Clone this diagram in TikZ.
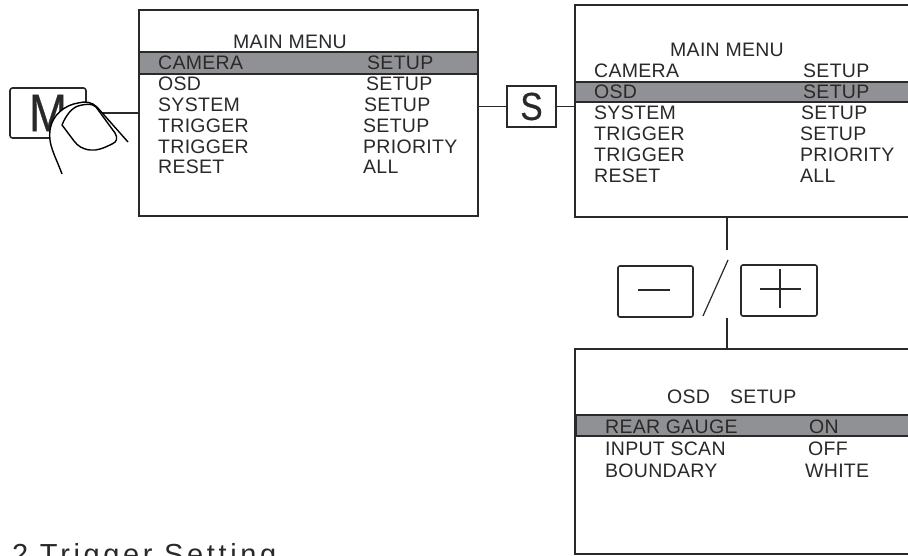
\documentclass[tikz,border=0pt]{standalone}
\usepackage{fontspec}
\usepackage{tikz}
\usepackage{xcolor}
\setmainfont{Liberation Sans}
\newfontfamily\menufont[LetterSpace=1.5]{Liberation Sans}
\newfontfamily\headfont[LetterSpace=12.5]{Liberation Sans}
\newfontfamily\keyfont[FakeStretch=0.86,FakeBold=0.5]{Liberation Sans}
\definecolor{inkdark}{HTML}{2B2829}
\definecolor{bargray}{HTML}{8F9194}

\begin{document}
\begin{tikzpicture}[x=1pt,y=-1pt,
  menubox/.style={draw=inkdark,line width=2pt,fill=white,anchor=north west,inner sep=0pt,outer sep=0pt},
  menubar/.style={draw=inkdark,line width=1.2pt,fill=bargray,anchor=north west,inner sep=0pt,outer sep=0pt},
  menutext/.style={anchor=base west,inner sep=0pt,text=inkdark,font=\menufont\fontsize{19.5}{21}\selectfont},
  keybox/.style={draw=inkdark,line width=1.3pt,fill=white,inner sep=0pt,outer sep=0pt},
  fingerline/.style={draw=black,line width=1.4pt,line join=round}]
  \useasboundingbox (0,0) rectangle (908,556);

  \node[menubox,minimum width=339pt,minimum height=206pt] (mainA) at (139,10) {};
  \node[menubox,minimum width=400pt,minimum height=212pt] (mainB) at (575,5) {};
  \node[menubox,minimum width=400pt,minimum height=205pt] (osdbox) at (575,349) {};
  \node[menubar,minimum width=339pt,minimum height=22pt] (barA) at (139,52) {};
  \node[menubar,minimum width=400pt,minimum height=20pt] (barB) at (575,82) {};
  \node[menubar,minimum width=400pt,minimum height=21pt] (barC) at (576,415) {};

  \node[menutext] (titleA) at (233,49) {MAIN MENU};
  \foreach \lab/\val/\vx/\yy [count=\k] in {CAMERA/SETUP/367/70,OSD/SETUP/366/91,SYSTEM/SETUP/364/112,
    TRIGGER/SETUP/363/133,TRIGGER/PRIORITY/363/154,RESET/ALL/363/174} {
    \node[menutext] (labA\k) at (158,\yy) {\lab};
    \node[menutext] (valA\k) at (\vx,\yy) {\val};
  }

  \node[menutext] (titleB) at (670,57) {MAIN MENU};
  \foreach \lab/\val/\vx/\yy [count=\k] in {CAMERA/SETUP/803/78,OSD/SETUP/803/99,SYSTEM/SETUP/801/120,
    TRIGGER/SETUP/800/141,TRIGGER/PRIORITY/800/162,RESET/ALL/800/183} {
    \node[menutext] (labB\k) at (594,\yy) {\lab};
    \node[menutext] (valB\k) at (\vx,\yy) {\val};
  }

  \node[menutext] (titleC) at (667,403) {OSD};
  \node[menutext] (titleD) at (730,403) {SETUP};
  \foreach \lab/\val/\vx/\yy [count=\k] in {REAR GAUGE/ON/809/433,INPUT SCAN/OFF/808/455,BOUNDARY/WHITE/805/477} {
    \node[menutext] (labC\k) at (605,\yy) {\lab};
    \node[menutext] (valC\k) at (\vx,\yy) {\val};
  }

  \node[keybox,minimum width=49pt,minimum height=41pt,font=\keyfont\fontsize{39}{40}\selectfont,text=inkdark] (keyS) at (531.5,106.5) {S};
  \draw[inkdark,line width=1.2pt] (mainA.east |- keyS.west) -- (keyS.west);
  \draw[inkdark,line width=1.2pt] (keyS.east) -- (mainB.west |- keyS.east);

  \node[keybox,rounded corners=2.5pt,line width=1.6pt,minimum width=76pt,minimum height=50pt,font=\keyfont\fontsize{53}{54}\selectfont,text=inkdark] (keyM) at (48,113) {M\hspace{8pt}};
  \draw[inkdark,line width=1.2pt] (keyM.east) -- (mainA.west |- keyM.east);
  \fill[white] (62,174) .. controls (55,155) and (48,145) .. (50,130) .. controls (52,115) and (65,105) .. (78,103)
    .. controls (85,101) and (92,102) .. (97,107) -- (128,142) -- (93,165) -- cycle;
  \draw[fingerline] (62,174) .. controls (55,155) and (48,145) .. (50,130) .. controls (52,115) and (65,105) .. (78,103)
    .. controls (85,101) and (92,102) .. (97,107) -- (128,142);
  \draw[fingerline] (62,125) .. controls (66,115) and (72,108) .. (78,106) .. controls (85,104) and (92,103) .. (96,107)
    -- (115,133) .. controls (118,138) and (117,142) .. (112,144) .. controls (104,148) and (97,151) .. (90,150)
    .. controls (82,149) and (78,146) .. (74,141) -- cycle;

  \node[keybox,rounded corners=2pt,line width=1.6pt,minimum width=75pt,minimum height=51pt] (keyminus) at (655.5,291.5) {};
  \node[keybox,rounded corners=2pt,line width=1.6pt,minimum width=76pt,minimum height=51pt] (keyplus) at (779,290.5) {};
  \draw[inkdark,line width=1.5pt] (638,290) -- (670,290);
  \draw[inkdark,line width=1.6pt] (760,289) -- (801,289) (780,269) -- (780,308);
  \draw[inkdark,line width=1.2pt] (728,260) -- (703,316);

  \coordinate (gapT) at (727,250);
  \coordinate (gapB) at (727,318);
  \draw[inkdark,line width=1.8pt] (gapT |- mainB.south) -- (gapT);
  \draw[inkdark,line width=1.8pt] (gapB) -- (gapB |- osdbox.north);

  \node[anchor=base west,inner sep=0pt,text=inkdark,font=\headfont\fontsize{29}{30}\selectfont] (heading) at (12,564) {2 Trigger Setting};
\end{tikzpicture}
\end{document}
